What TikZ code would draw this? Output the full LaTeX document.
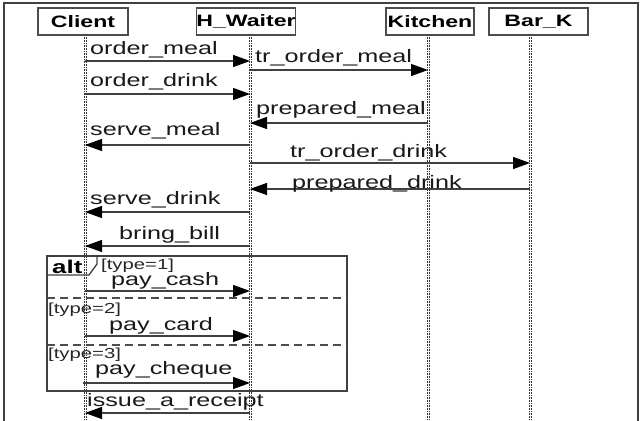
\documentclass[tikz,border=0pt]{standalone}
\usepackage{fontspec}
\setmainfont{Liberation Sans}
\newfontfamily\lf[FakeStretch=1.4]{Liberation Sans}
\usetikzlibrary{arrows.meta}
\begin{document}
\begin{tikzpicture}[x=1pt,y=-1pt,
  msg/.style={draw=black!75, line width=1.3pt, -{Triangle[length=17pt,width=12pt,fill=black,color=black]}},
  lbl/.style={anchor=base west, inner sep=0pt, font=\lf\fontsize{18}{20}\selectfont, text=black!90},
  grd/.style={anchor=base west, inner sep=0pt, font=\lf\fontsize{14.5}{16}\selectfont, text=black!85},
  obj/.style={draw=black!70, line width=1.1pt, minimum height=27pt, inner sep=0pt, font=\lf\bfseries\fontsize{16.5}{18}\selectfont},
  life/.style={black!80, line width=0.6pt, densely dotted},
  guardsep/.style={black!70, line width=1.6pt, dash pattern=on 8pt off 5pt},
  frm/.style={draw=black!75, line width=1.3pt},
]
\useasboundingbox (0,0) rectangle (642,420);
\draw[line width=1.8pt, black!75] (4,430) -- (4,3) -- (638,3) -- (638,430);

% objects
\node[obj, minimum width=90pt] (client) at (83,21.5) {Client};
\node[obj, minimum width=98pt] (waiter) at (246,21.5) {H\_Waiter};
\node[obj, minimum width=88pt] (kitchen) at (430,21.5) {Kitchen};
\node[obj, minimum width=99pt] (bar) at (538.5,21.5) {Bar\_K};

% lifelines
\coordinate (cl) at (85,35);
\coordinate (hw) at (250,35);
\coordinate (kt) at (428,35);
\coordinate (bk) at (530,35);
\foreach \c in {cl,hw,kt,bk}{
  \draw[life] ([xshift=-1pt]\c) -- ([xshift=-1pt]\c |- 0,425);
  \draw[life] ([xshift=1pt]\c) -- ([xshift=1pt]\c |- 0,425);
}

% alt fragment
\draw[frm] (47,256) rectangle (347,391);
\draw[frm] (47,256) -- (97,256) -- (97,264) -- (89,275) -- (47,275);
\node[anchor=base west, inner sep=0pt, font=\lf\bfseries\fontsize{18.5}{20}\selectfont] (alt) at (52,273) {alt};
\draw[guardsep] (47,298) -- (347,298);
\draw[guardsep] (47,345) -- (347,345);
\node[grd] (g1) at (101,269) {[type=1]};
\node[grd] (g2) at (48,313) {[type=2]};
\node[grd] (g3) at (48,358) {[type=3]};

% messages
\draw[msg] (cl|-0,61) -- (hw|-0,61);
\node[lbl] (m1) at (90,55) {order\_meal};
\draw[msg] (hw|-0,70) -- (kt|-0,70);
\node[lbl] (m2) at (255,63) {tr\_order\_meal};
\draw[msg] (cl|-0,94) -- (hw|-0,94);
\node[lbl] (m3) at (90,86) {order\_drink};
\draw[msg] (kt|-0,123) -- (hw|-0,123);
\node[lbl] (m4) at (256,114) {prepared\_meal};
\draw[msg] (hw|-0,145) -- (cl|-0,145);
\node[lbl] (m5) at (90,135) {serve\_meal};
\draw[msg] (hw|-0,163) -- (bk|-0,163);
\node[lbl] (m6) at (290,157) {tr\_order\_drink};
\draw[msg] (bk|-0,189) -- (hw|-0,189);
\node[lbl] (m7) at (292,188) {prepared\_drink};
\draw[msg] (hw|-0,212) -- (cl|-0,212);
\node[lbl] (m8) at (90,204) {serve\_drink};
\draw[msg] (hw|-0,246) -- (cl|-0,246);
\node[lbl] (m9) at (119,239) {bring\_bill};
\draw[msg] (cl|-0,291) -- (hw|-0,291);
\node[lbl] (m10) at (111,285) {pay\_cash};
\draw[msg] (cl|-0,336) -- (hw|-0,336);
\node[lbl] (m11) at (109,330) {pay\_card};
\draw[msg] ([xshift=-2pt]cl|-0,383) -- (hw|-0,383);
\node[lbl] (m12) at (95,374) {pay\_cheque};
\draw[msg] (hw|-0,413) -- (cl|-0,413);
\node[lbl] (m13) at (87,406) {issue\_a\_receipt};
\end{tikzpicture}
\end{document}
